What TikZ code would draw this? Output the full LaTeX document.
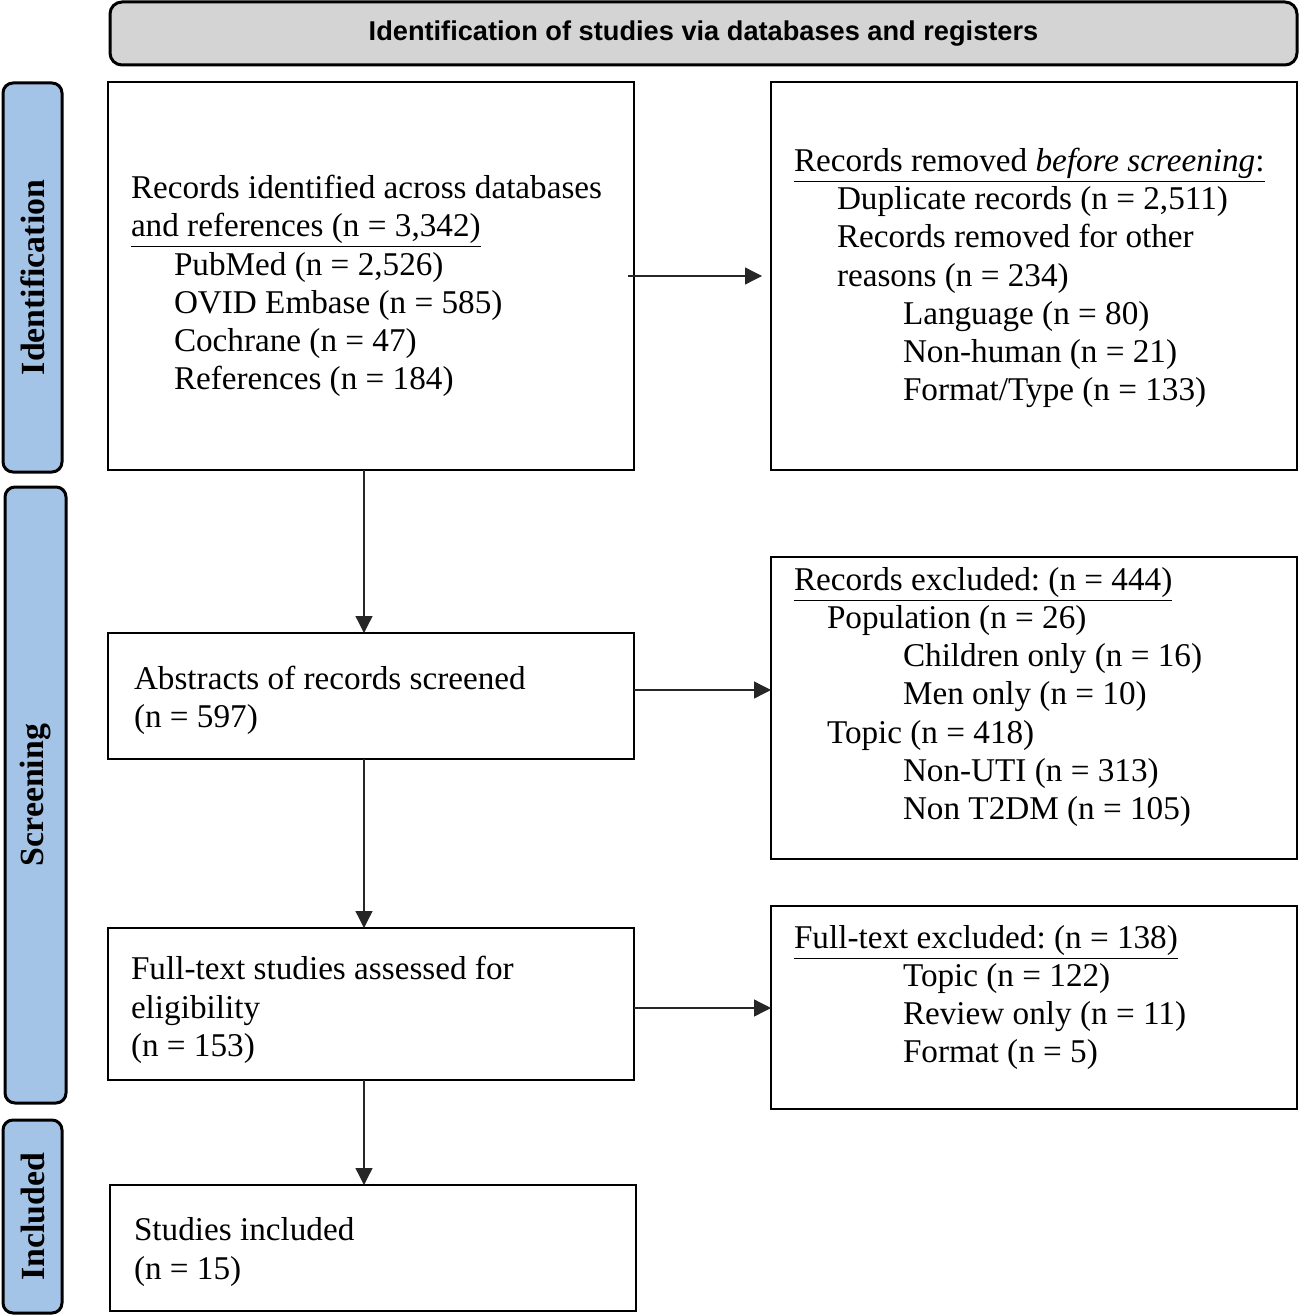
\documentclass[tikz,border=0pt]{standalone}
\usepackage{fontspec}
\setmainfont{Liberation Serif}
\newfontfamily\headfont{Liberation Sans}
\usetikzlibrary{positioning,arrows.meta}
\definecolor{hdrgray}{HTML}{D4D4D4}
\definecolor{barblue}{HTML}{A3C4E6}
\frenchspacing
% text block of a box, with extra height / depth to move it down / up
\newcommand\boxtxt[3]{\raisebox{0pt}[\dimexpr\height+#1\relax][\dimexpr\depth+#2\relax]{\parbox{240pt}{\raggedright #3}}}
\newcommand\ind[1][21.5pt]{\hspace*{#1}}
\tikzset{
box/.style={draw, line width=1.3pt, minimum width=263pt, inner sep=0pt, outer sep=0pt, font=\fontsize{16.6}{19.1}\selectfont},
bar/.style={draw, line width=1.5pt, fill=barblue, rounded corners=5pt, inner sep=0pt, rotate=90, font=\fontsize{16.9}{20}\selectfont\bfseries},
arr/.style={-{Triangle[length=8.5pt,width=8.5pt]}, line width=0.65pt, draw=black!85}
}
\begin{document}
\begin{tikzpicture}[x=0.5pt,y=-0.5pt]
\useasboundingbox (0,0) rectangle (1299,1316);
\node[draw, line width=1.5pt, fill=hdrgray, rounded corners=6pt, minimum width=593.5pt, minimum height=31.5pt, font=\headfont\bfseries\fontsize{13.6}{16}\selectfont] (hdr) at (703.5,33.5) {Identification of studies via databases and registers};
\node[bar, minimum width=194.5pt, minimum height=29.5pt] (idbar) at (32.5,277.5) {Identification};
\node[bar, minimum width=308pt, minimum height=30.5pt] (scrbar) at (35.5,795) {Screening};
\node[bar, minimum width=96.5pt, minimum height=29.5pt] (incbar) at (32.5,1216.5) {Included};
\node[box, minimum height=194pt] (rec) at (371,276) {\boxtxt{10pt}{0pt}{Records identified across databases\\
\underline{and references (n = 3,342)}\\
\ind PubMed (n = 2,526)\\
\ind OVID Embase (n = 585)\\
\ind Cochrane (n = 47)\\
\ind References (n = 184)}};
\node[box, minimum height=194pt, right=68.5pt of rec] (rem) {\boxtxt{2pt}{0pt}{\underline{Records removed \textit{before screening}:}\\
\ind Duplicate records (n = 2,511)\\
\ind Records removed for other\\
\ind reasons (n = 234)\\
\ind[54.5pt]Language (n = 80)\\
\ind[54.5pt]Non-human (n = 21)\\
\ind[54.5pt]Format/Type (n = 133)}};
\node[box, minimum height=63pt, below=81.5pt of rec] (abs) {\boxtxt{4pt}{0pt}{\ind[1.5pt]Abstracts of records screened\\
\ind[1.5pt](n = 597)}};
\node[box, minimum height=151pt, below=43.5pt of rem] (exc) {\boxtxt{0pt}{11pt}{\underline{Records excluded: (n = 444)}\\
\ind[16.5pt]Population (n = 26)\\
\ind[54.5pt]Children only (n = 16)\\
\ind[54.5pt]Men only (n = 10)\\
\ind[16.5pt]Topic (n = 418)\\
\ind[54.5pt]Non-UTI (n = 313)\\
\ind[54.5pt]Non T2DM (n = 105)}};
\node[box, minimum height=76pt, below=84.5pt of abs] (ft) {\boxtxt{6pt}{0pt}{Full-text studies assessed for\\
eligibility\\
(n = 153)}};
\node[box, minimum height=101.5pt, below=23.5pt of exc] (ftx) {\boxtxt{0pt}{10pt}{\underline{Full-text excluded: (n = 138)}\\
\ind[54.5pt]Topic (n = 122)\\
\ind[54.5pt]Review only (n = 11)\\
\ind[54.5pt]Format (n = 5)}};
\node[box, minimum height=63pt, below=52.5pt of ft, xshift=1pt] (inc) {\boxtxt{4pt}{0pt}{\ind[0.5pt]Studies included\\
\ind[0.5pt](n = 15)}};
% connectors
\coordinate (ax) at (364,0);
\draw[arr] (rec.south -| ax) -- (abs.north -| ax);
\draw[arr] (abs.south -| ax) -- (ft.north -| ax);
\draw[arr] (ft.south -| ax) -- (inc.north -| ax);
\draw[arr] ([xshift=-3pt]rec.east) -- ([xshift=-4.5pt]rem.west);
\draw[arr] ([yshift=3pt]abs.east) -- ([yshift=3pt]abs.east -| exc.west);
\draw[arr] ([yshift=-2pt]ft.east) -- ([yshift=-2pt]ft.east -| ftx.west);
\end{tikzpicture}
\end{document}
